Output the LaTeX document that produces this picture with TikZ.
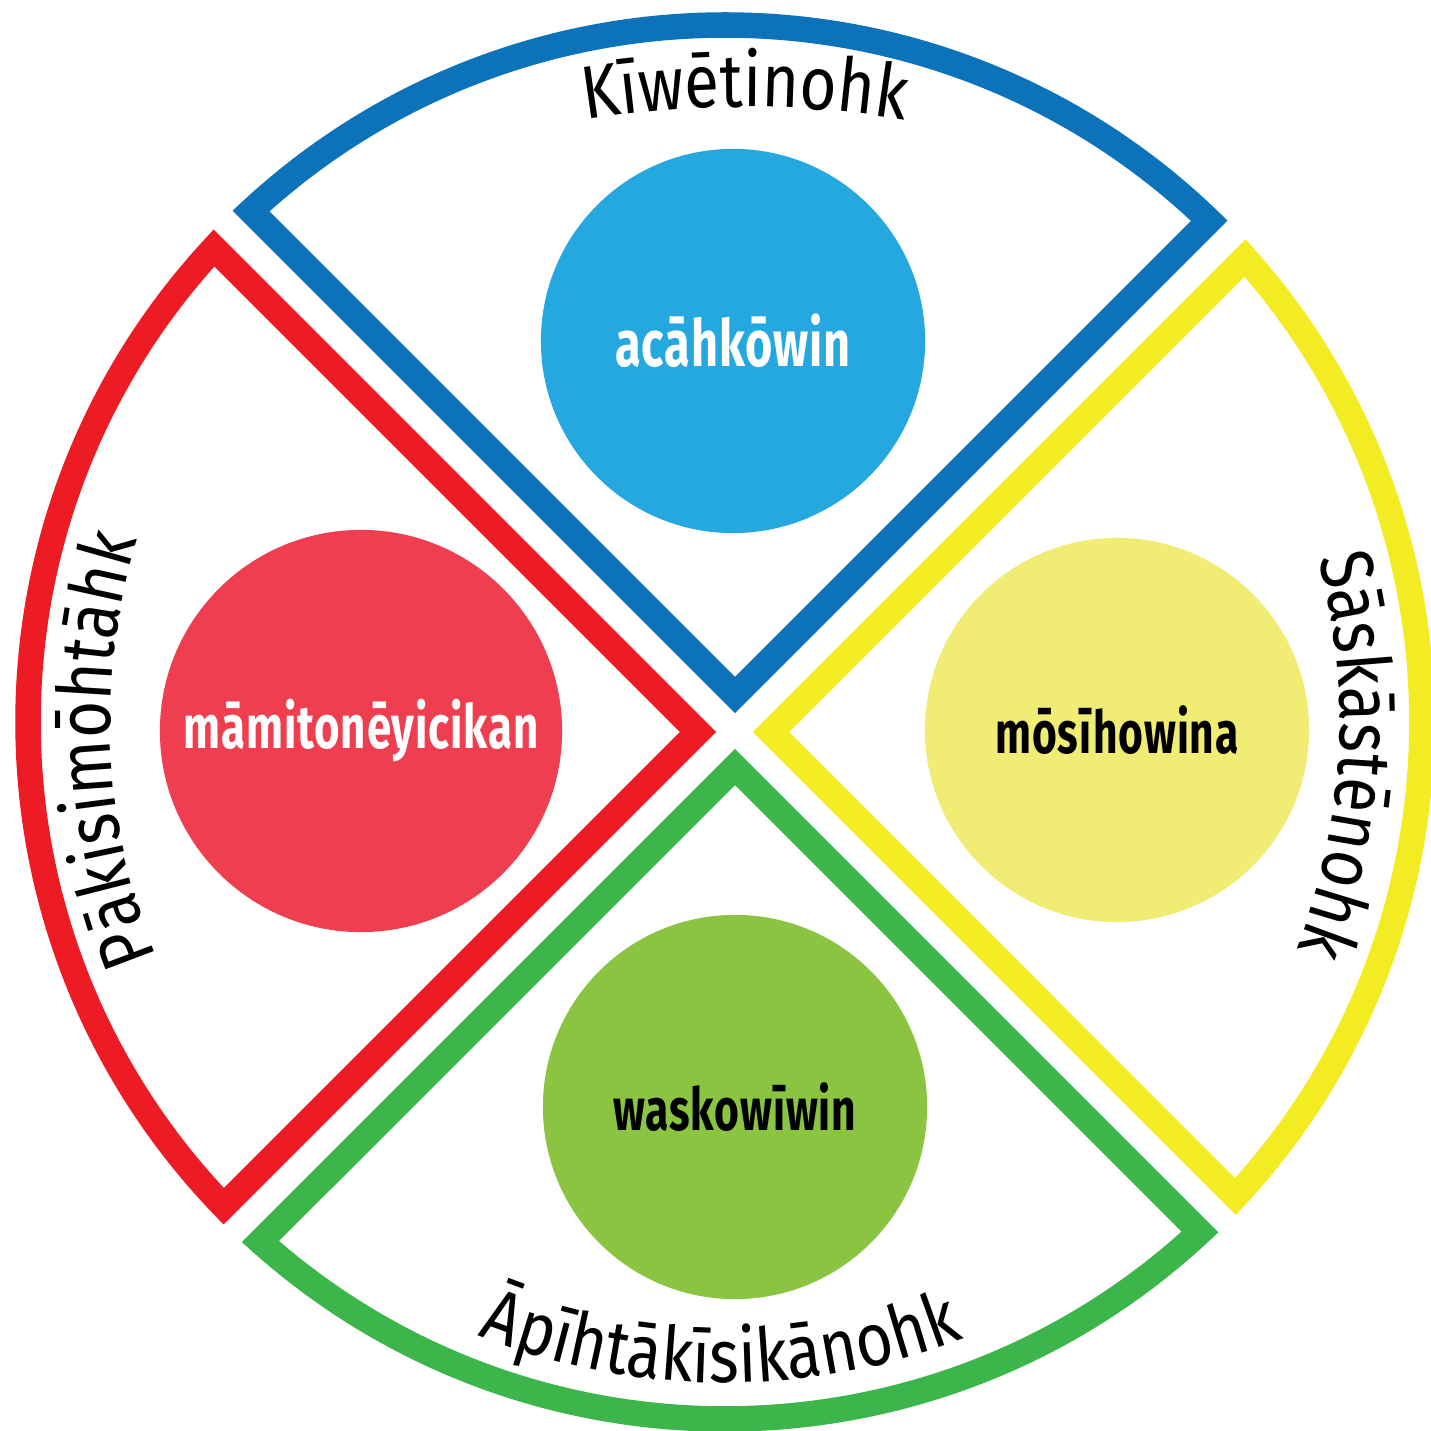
\documentclass[tikz,border=0pt]{standalone}
\usepackage{fontspec}
\usetikzlibrary{decorations.text}
\newfontfamily\lblfam[FakeStretch=0.85]{Fira Sans}
\newfontfamily\circfam[FakeStretch=0.72, LetterSpace=1.5]{Fira Sans}
\newcommand\lblfont{\lblfam\fontsize{21.3pt}{24pt}\selectfont}
\newcommand\circfont{\circfam\bfseries\fontsize{16.8pt}{19pt}\selectfont}

\definecolor{northline}{RGB}{12,114,186}
\definecolor{westline}{RGB}{237,28,36}
\definecolor{eastline}{RGB}{244,236,34}
\definecolor{southline}{RGB}{60,181,74}
\definecolor{northfill}{RGB}{37,168,224}
\definecolor{westfill}{RGB}{239,62,80}
\definecolor{eastfill}{RGB}{241,236,116}
\definecolor{southfill}{RGB}{139,196,65}

\tikzset{
  wedge/.style={line width=0.255cm, line join=miter, fill=white, draw=#1},
  disc/.style={circle, inner sep=0pt, minimum size=#1},
  word/.style={font=\circfont, anchor=center},
  arclabel/.style={decorate, decoration={text along path, text={|\lblfont|#1}, text align=center}}
}

\begin{document}
\begin{tikzpicture}[x=0.01cm, y=0.01cm]
\useasboundingbox (0,0) rectangle (1431,1430);

% centre of the outer circle and tips of the four wedges
\coordinate (C) at (725,708);
\coordinate (apexN) at (735,735);
\coordinate (apexW) at (698,698);
\coordinate (apexE) at (771,698);
\coordinate (apexS) at (735,663);

% four quarter wedges
\path[wedge=northline] (apexN) -- (251,1219) arc[start angle=132.85, end angle=45.99, radius=697] -- cycle;
\path[wedge=westline]  (apexW) -- (214,1182) arc[start angle=137.15, end angle=224.01, radius=697] -- cycle;
\path[wedge=eastline]  (apexE) -- (1245,1172) arc[start angle=41.74, end angle=-42.91, radius=697] -- cycle;
\path[wedge=southline] (apexS) -- (1200,198) arc[start angle=-47.03, end angle=-131.8, radius=697] -- cycle;

% discs with their words
\node[disc=3.84cm, fill=northfill] (dN) at (733,1089) {};
\node[disc=4.02cm, fill=westfill]  (dW) at (361,699) {};
\node[disc=3.84cm, fill=eastfill]  (dE) at (1117,700) {};
\node[disc=3.84cm, fill=southfill] (dS) at (735,323) {};

\node[word, text=white, scale=1.1] (tN) at (dN.center) {acāhkōwin};
\node[word, text=white, scale=1.03] (tW) at (dW.center) {māmitonēyicikan};
\node[word, text=black] (tE) at (dE.center) {mōsīhowina};
\node[word, text=black] (tS) at (dS.center) {waskowīwin};

% direction names along the rim
\path[arclabel={Kīwētinohk}] (745,323) ++(105:1000) arc[start angle=105, end angle=75, radius=1000];
\path[arclabel={Pākisimōhtāhk}] (C) ++(222.6:615) arc[start angle=222.6, end angle=142.6, radius=615];
\path[arclabel={Sāskāstēnohk}] (C) ++(36.9:615) arc[start angle=36.9, end angle=-43.1, radius=615];
\path[arclabel={Āpīhtākīsikānohk}] (C) ++(-130.4:661) arc[start angle=-130.4, end angle=-50.4, radius=661];
\end{tikzpicture}
\end{document}
